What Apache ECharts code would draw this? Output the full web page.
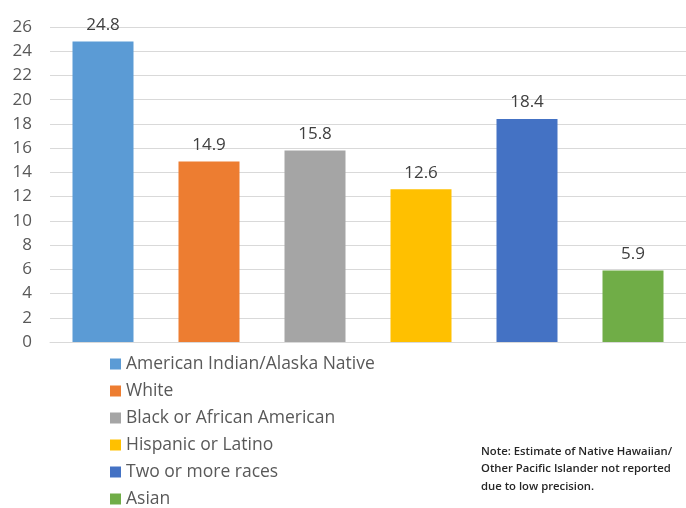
<!DOCTYPE html>
<html><head><meta charset="utf-8">
<script src="https://cdn.jsdelivr.net/npm/echarts@6/dist/echarts.min.js"></script>
<style>html,body{margin:0;padding:0;background:#fff}#c{width:686px;height:508px}</style>
</head><body><div id="c"></div>
<script>
const categories = ["American Indian/Alaska Native","White","Black or African American","Hispanic or Latino","Two or more races","Asian"];
const values = [24.8, 14.9, 15.8, 12.6, 18.4, 5.9];
const colors = ["#5B9BD5","#ED7D31","#A5A5A5","#FFC000","#4472C4","#70AD47"];
const yTicks = {min:0, max:26, interval:2};
const noteLines = ["Note: Estimate of Native Hawaiian/","Other Pacific Islander not reported","due to low precision."];

const series = categories.map((name, i) => ({
  name: name,
  type: 'bar',
  stack: 'all',
  barWidth: 61,
  itemStyle: {color: colors[i]},
  label: {show: true, position: 'top', distance: 8, color: '#404040', fontSize: 17, fontFamily: 'Open Sans',
          formatter: p => p.value == null ? '' : p.value.toFixed(1)},
  data: categories.map((c, j) => j === i ? values[i] : null)
}));

const chart = echarts.init(document.getElementById('c'), null, {renderer:'canvas'});
chart.setOption({
  animation: false,
  grid: {left: 50, top: 27, width: 639, height: 315, containLabel: false},
  xAxis: {type:'category', data: categories, axisLabel:{show:false}, axisTick:{show:false},
          axisLine:{lineStyle:{color:'#d9d9d9', width:1}}},
  yAxis: {type:'value', min:yTicks.min, max:yTicks.max, interval:yTicks.interval,
          axisLine:{show:false}, axisTick:{show:false},
          axisLabel:{color:'#595959', fontSize:17, fontFamily:'Open Sans', margin:18},
          splitLine:{lineStyle:{color:'#d9d9d9', width:1}}},
  legend: {orient:'vertical', left:105, top:355, height:170, itemWidth:11, itemHeight:11, itemGap:9, icon:'rect',
           data: categories, selectedMode:false, padding:[0,5,0,5],
           textStyle:{color:'#595959', fontSize:17.5, fontFamily:'Open Sans'}},
  graphic: noteLines.map((t, k) => ({type:'text', left:481, top:446 + k*17.5,
           style:{text:t, fill:'#262626', font:'600 11.3px "Open Sans"'}})),
  series: series
});
</script></body></html>
